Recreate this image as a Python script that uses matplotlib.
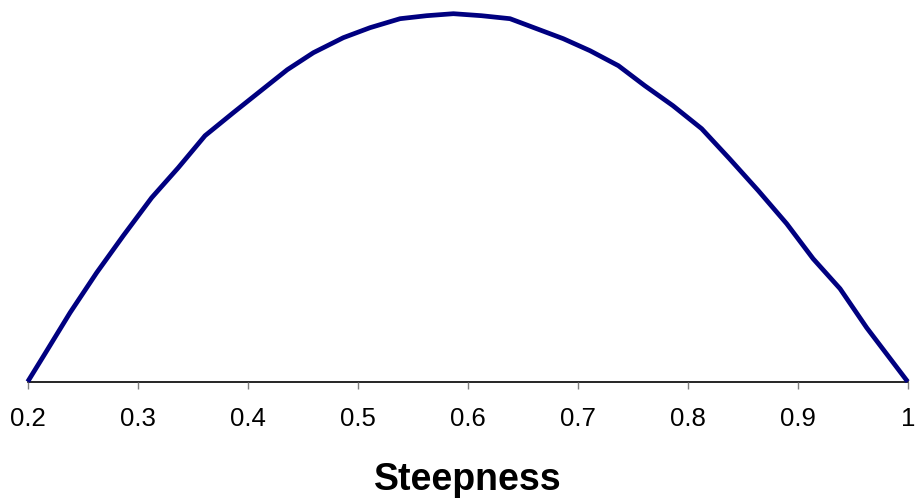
import matplotlib
matplotlib.use("Agg")
import matplotlib.pyplot as plt

# Data (y axis is unlabelled; arbitrary units)
steepness = [0.200, 0.2157, 0.2385, 0.2627, 0.2869, 0.3127, 0.3369, 0.3612,
             0.3869, 0.412, 0.436, 0.4597, 0.4869, 0.5112, 0.5385, 0.5627,
             0.587, 0.6125, 0.6385, 0.6627, 0.6869, 0.7112, 0.7370, 0.761,
             0.7866, 0.8127, 0.838, 0.8642, 0.890, 0.914, 0.9385, 0.9627, 1.0]
response = [0, 28, 69, 109, 146, 184, 214, 246,
            269, 291, 312, 329, 344, 354, 363, 366,
            368, 366, 363, 353, 343, 331, 316, 296,
            276, 253, 223, 191, 158, 123, 93, 54, 0]
xticks = [0.2, 0.3, 0.4, 0.5, 0.6, 0.7, 0.8, 0.9, 1.0]
xtick_labels = ["0.2", "0.3", "0.4", "0.5", "0.6", "0.7", "0.8", "0.9", "1"]

plt.rcParams['font.family'] = ['Liberation Sans', 'DejaVu Sans']

fig = plt.figure(figsize=(9.17, 5.0), dpi=100)
ax = fig.add_axes([27.7 / 917, 1 - 381.7 / 500, 880 / 917, (381.7 - 5) / 500])

ax.plot(steepness, response, color='#000080', linewidth=3.4,
        solid_joinstyle='round', solid_capstyle='butt', clip_on=False)

ax.set_xlim(0.2, 1.0)
ax.set_ylim(0, 376.7)

for side in ['left', 'right', 'top']:
    ax.spines[side].set_visible(False)
ax.spines['bottom'].set_color('black')
ax.spines['bottom'].set_linewidth(1.2)
ax.spines['bottom'].set_zorder(1)

ax.set_yticks([])
ax.set_xticks(xticks)
ax.set_xticklabels(xtick_labels)
ax.tick_params(axis='x', direction='out', length=5, width=1.0,
               color='#808080', labelsize=18.5, pad=13.5, labelcolor='black')

ax.set_xlabel("Steepness", fontsize=27, fontweight='bold', labelpad=22)

fig.savefig("out.png", dpi=100)
